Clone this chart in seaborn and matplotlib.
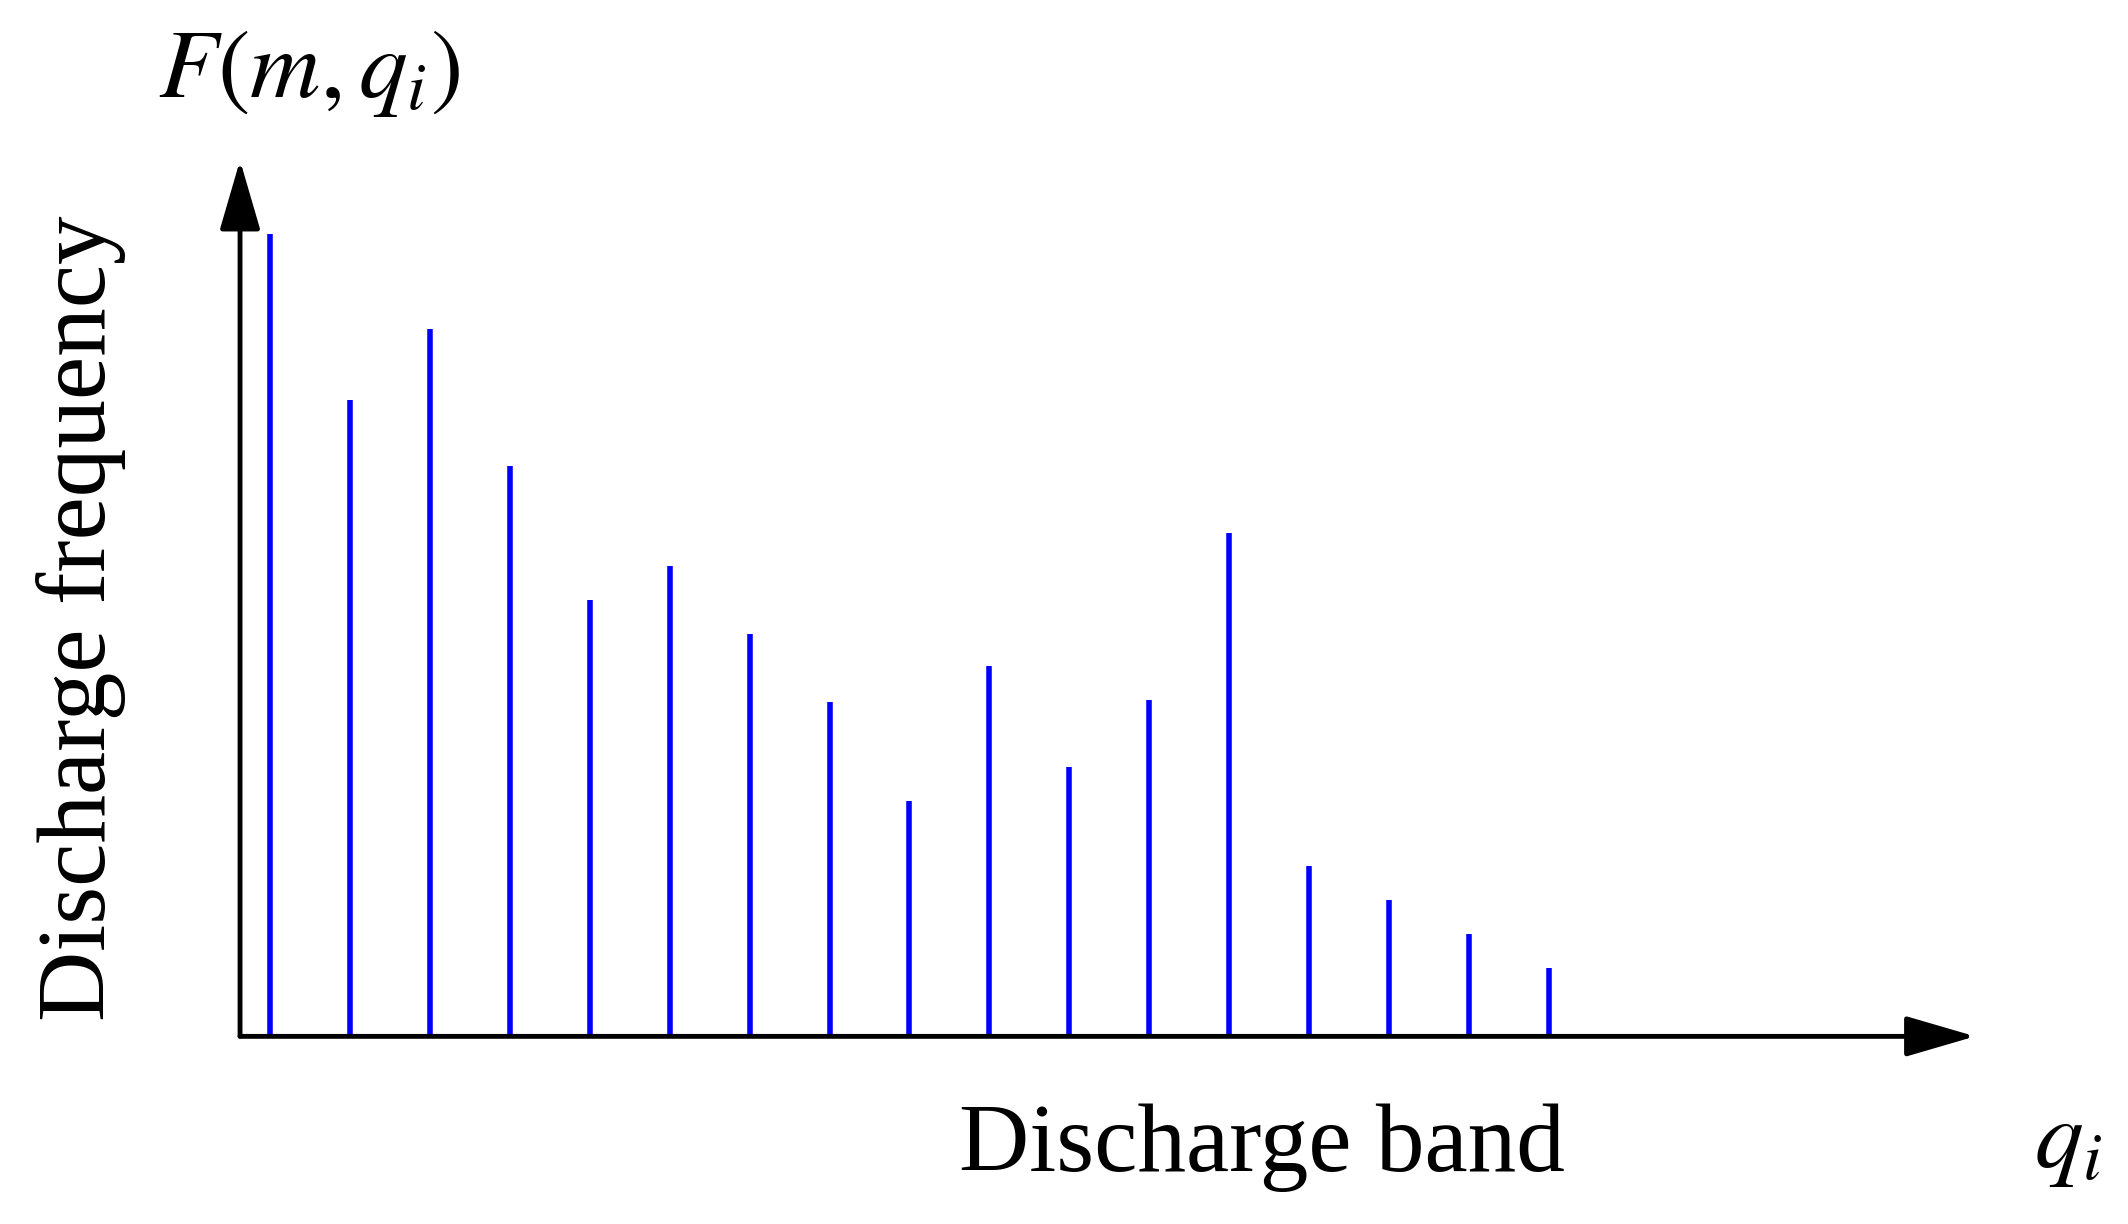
import matplotlib
matplotlib.use("Agg")
import matplotlib.pyplot as plt
import numpy as np
import seaborn as sns

sns.set_theme(style="white")
plt.rcParams['font.family'] = ['Liberation Serif', 'DejaVu Serif']
plt.rcParams['mathtext.fontset'] = 'stix'
plt.rcParams['text.color'] = 'black'

# discharge bands and their frequency (pixel-read, arbitrary units)
bands = np.arange(17)
freq = [590, 468, 520, 419, 321, 346, 296, 246, 173, 272, 198, 247, 370, 125, 100, 75, 50]

fig = plt.figure(figsize=(21.28, 12.24), dpi=100)
ax = fig.add_axes([0.1128, 0.1533, 0.8154, 0.7157])
ax.vlines(bands, 0, freq, color="#0000ff", linewidth=4)
ax.set_xlim(-0.373, 21.33)
ax.set_ylim(0, 644)
ax.set_xticks([])
ax.set_yticks([])
for s in ax.spines.values():
    s.set_visible(False)

# axis arrows
arrow = dict(arrowstyle="-|>,head_length=3.6,head_width=1.05",
             color="black", lw=3.5, shrinkA=0, shrinkB=0)
ax.annotate("", xy=(1, 0), xytext=(0, 0), xycoords="axes fraction", arrowprops=arrow)
ax.annotate("", xy=(0, 1), xytext=(0, 0), xycoords="axes fraction", arrowprops=arrow)

fig.text(0.038, 0.495, "Discharge frequency", rotation=90, fontsize=70,
         ha="center", va="center")
fig.text(0.593, 0.062, "Discharge band", fontsize=70, ha="center", va="center")
fig.text(0.145, 0.94, r"$F(m,q_i)$", fontsize=70, ha="center", va="center")
fig.text(0.972, 0.065, r"$q_i$", fontsize=70, ha="center", va="center")

fig.savefig("out.png", dpi=100)
